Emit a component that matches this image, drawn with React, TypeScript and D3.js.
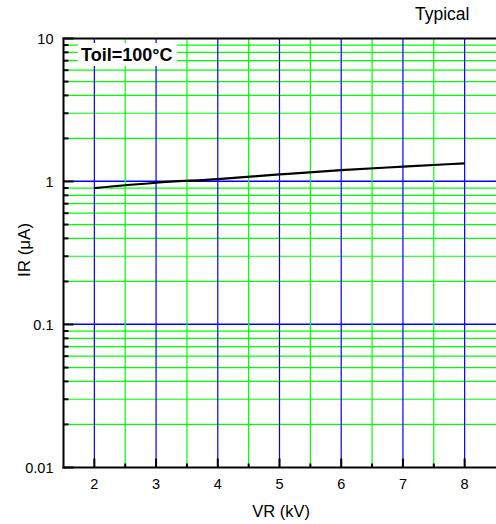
import React from "react";
import * as d3 from "d3";

const W = 496;
const H = 524;

const vr = [2, 3, 4, 5, 6, 7, 8];
const ir = [0.9, 0.98, 1.04, 1.12, 1.2, 1.27, 1.34];
const xMajor = [2, 3, 4, 5, 6, 7, 8];
const xMinor = [2.5, 3.5, 4.5, 5.5, 6.5, 7.5];
const yMajor = [10, 1, 0.1, 0.01];
const yMajorLabels = ["10", "1", "0.1", "0.01"];
const title = "Typical";
const condition = "Toil=100°C";
const xTitle = "VR (kV)";
const yTitle = "IR (μA)";

const FONT = "'Liberation Sans', Arial, sans-serif";

export default function App() {
  const left = 63.5, right = 495.5, top = 38.5, bottom = 467.5;
  const x = d3.scaleLinear().domain([1.5, 8.5]).range([left, right]);
  const y = d3.scaleLog().domain([0.01, 10]).range([bottom, top]);

  const yMinor: number[] = [];
  for (const dec of [0.01, 0.1, 1]) {
    for (let k = 2; k <= 9; k++) yMinor.push(dec * k);
  }

  const line = d3
    .line<number>()
    .x((_, i) => x(vr[i]))
    .y((d) => y(d))
    .curve(d3.curveMonotoneX);

  return (
    <svg
      width={W}
      height={H}
      style={{ position: "absolute", left: 0, top: 0, background: "#fff" }}
      fontFamily={FONT}
    >
      {/* grid */}
      {yMinor.map((v) => (
        <line key={"gy" + v} x1={left} x2={right + 1} y1={y(v)} y2={y(v)} stroke="#00ff00" strokeWidth={1.2} />
      ))}
      {[1, 0.1].map((v) => (
        <line key={"gyM" + v} x1={left} x2={right + 1} y1={y(v) - 0.3} y2={y(v) - 0.3} stroke="#0000ff" strokeWidth={1.5} />
      ))}
      {xMinor.map((v) => (
        <line key={"gx" + v} x1={x(v)} x2={x(v)} y1={top} y2={bottom} stroke="#00ff00" strokeWidth={1.2} />
      ))}
      {xMajor.map((v) => (
        <line key={"gxM" + v} x1={x(v)} x2={x(v)} y1={top} y2={bottom} stroke="#0000ff" strokeWidth={1.2} />
      ))}

      {/* condition label */}
      <rect x={78} y={43} width={99} height={23} fill="#fff" />
      <text x={81} y={61} fontSize={18} fontWeight="bold" fill="#000">
        {condition}
      </text>

      {/* curve */}
      <path d={line(ir) || ""} fill="none" stroke="#000" strokeWidth={2.2} />

      {/* axes frame */}
      <line x1={left} x2={left} y1={top - 1} y2={bottom + 1} stroke="#000" strokeWidth={2} />
      <line x1={left - 1} x2={W} y1={bottom} y2={bottom} stroke="#000" strokeWidth={2} />
      <line x1={left - 1} x2={W} y1={top} y2={top} stroke="#000" strokeWidth={2} />

      {/* y ticks */}
      {yMajor.map((v) => (
        <line key={"ty" + v} x1={left} x2={left + 10} y1={y(v)} y2={y(v)} stroke="#000" strokeWidth={2} />
      ))}
      {yMinor.map((v) => (
        <line key={"tym" + v} x1={left} x2={left + 5} y1={y(v)} y2={y(v)} stroke="#000" strokeWidth={2} />
      ))}
      {/* x ticks */}
      {xMajor.map((v) => (
        <line key={"tx" + v} x1={x(v)} x2={x(v)} y1={bottom} y2={bottom - 9} stroke="#000" strokeWidth={2} />
      ))}
      {xMinor.map((v) => (
        <line key={"txm" + v} x1={x(v)} x2={x(v)} y1={bottom} y2={bottom - 4} stroke="#000" strokeWidth={2} />
      ))}

      {/* tick labels */}
      {yMajor.map((v, i) => (
        <text key={"ly" + v} x={53.5} y={y(v) + 5} fontSize={14.5} textAnchor="end" fill="#000">
          {yMajorLabels[i]}
        </text>
      ))}
      {xMajor.map((v) => (
        <text key={"lx" + v} x={x(v)} y={489} fontSize={14.5} textAnchor="middle" fill="#000">
          {v}
        </text>
      ))}

      {/* titles */}
      <text x={281} y={516.5} fontSize={16.5} textAnchor="middle" fill="#000">
        {xTitle}
      </text>
      <text transform="translate(29.5,250) rotate(-90)" fontSize={17} textAnchor="middle" fill="#000">
        {yTitle}
      </text>
      <text x={415} y={19.5} fontSize={17.5} fill="#000">
        {title}
      </text>
    </svg>
  );
}
